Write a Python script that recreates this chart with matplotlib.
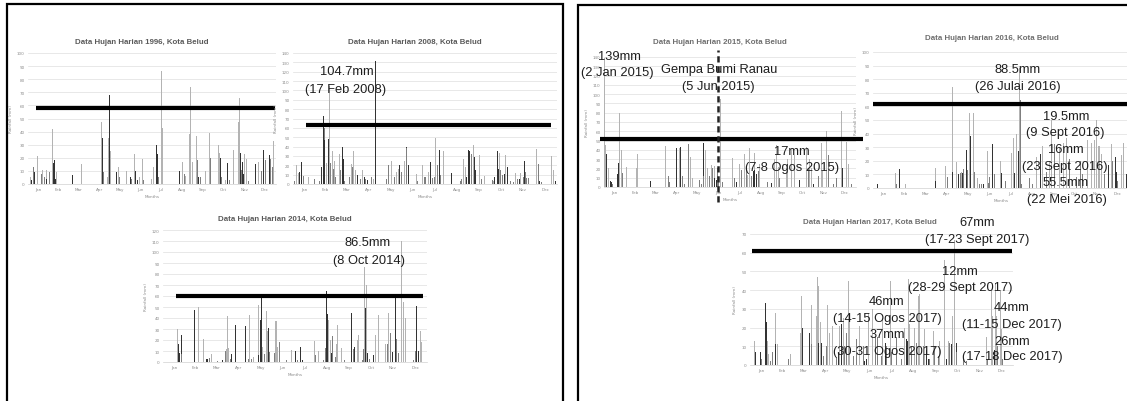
import matplotlib
matplotlib.use("Agg")
import matplotlib.pyplot as plt
from matplotlib.patches import Rectangle

W, H = 1127, 402

months = ['Jan', 'Feb', 'Mar', 'Apr', 'May', 'Jun', 'Jul', 'Aug', 'Sep', 'Oct', 'Nov', 'Dec']
month_start = [0, 31, 59, 90, 120, 151, 181, 212, 243, 273, 304, 334, 365]

# daily rainfall bars: (day of year, mm, station 0/1/2)
bars_1996 = [(3,5,0),(5,3,2),(8,13,1),(9,9,2),(14,21,0),(20,8,1),(22,11,0),(24,5,1),(27,11,0),(28,4,2),
             (31,21,0),(32,9,1),(36,42,0),(38,16,2),(39,18,2),(41,4,2),(42,9,0),(62,5,0),(66,7,2),(79,15,0),
             (109,47,0),(110,35,2),(111,9,1),(117,5,0),(119,35,0),(120,68,2),(122,25,0),(124,11,0),(131,9,2),
             (133,13,0),(135,5,1),(146,10,0),(151,5,2),(153,4,1),(157,23,0),(158,10,2),(162,3,2),(164,5,0),
             (169,19,0),(171,3,1),(182,4,0),(185,13,0),(189,30,2),(191,23,2),(193,5,1),(197,86,0),(199,43,0),
             (224,10,2),(228,17,0),(231,8,1),(233,6,0),(238,38,0),(240,74,0),(243,17,0),(245,8,2),(249,37,0),
             (250,18,1),(252,5,2),(254,5,1),(262,10,0),(268,39,0),(270,20,1),(276,5,0),(281,30,0),(282,24,0),
             (284,20,2),(286,5,1),(291,3,0),(295,16,2),(297,3,1),(303,26,0),(310,47,0),(312,66,0),(313,24,2),
             (315,11,1),(317,17,2),(318,8,2),(320,23,0),(323,19,0),(325,2,1),(335,21,0),(336,15,2),(340,17,0),
             (345,10,1),(347,26,2),(350,18,1),(356,22,2),(358,19,1),(361,13,1),(363,33,0)]

bars_2008 = [(2,3,1),(5,20,0),(7,12,0),(9,13,2),(12,24,2),(14,9,1),(22,8,0),(30,5,1),(37,3,1),(39,18,2),
             (42,73,2),(43,60,1),(44,47,2),(46,22,0),(49,48,2),(50,51,2),(51,104.7,0),(52,22,1),(55,35,0),
             (56,16,1),(58,25,0),(59,8,1),(64,32,0),(66,15,1),(69,40,2),(70,27,2),(72,3,1),(79,8,1),(81,21,0),
             (82,18,1),(84,35,0),(86,15,0),(90,10,2),(93,5,1),(97,15,0),(99,8,2),(101,5,1),(103,4,2),(109,7,1),
             (111,5,0),(114,131,2),(129,5,1),(132,15,2),(133,20,1),(136,25,0),(141,8,1),(144,13,0),(146,16,0),
             (148,20,2),(151,13,1),(154,25,0),(157,40,2),(158,39,1),(160,20,2),(171,11,0),(172,3,1),(180,20,0),
             (183,8,1),(188,13,0),(190,24,2),(191,10,2),(194,6,1),(196,8,1),(198,49,0),(201,20,1),(203,36,2),
             (205,10,1),(209,35,0),(220,12,2),(232,3,1),(234,5,1),(236,27,0),(239,18,0),(241,8,2),(243,36,2),
             (245,35,2),(247,32,1),(248,15,1),(250,42,0),(252,29,2),(253,15,2),(259,31,0),(262,5,1),(266,9,0),
             (276,4,1),(278,3,0),(280,8,2),(284,35,2),(285,16,2),(286,33,0),(288,15,1),(291,10,1),(293,11,2),
             (295,31,0),(297,18,2),(301,3,1),(306,2,1),(308,12,0),(311,5,1),(314,5,2),(316,12,0),(319,8,1),
             (321,25,2),(323,13,1),(324,6,1),(327,6,1),(338,37,0),(340,21,1),(342,3,2),(345,2,1),(359,30,0),
             (361,15,0),(364,3,2)]

bars_2014 = [(20,30,0),(21,16,2),(23,8,2),(25,25,2),(26,7,1),(43,47,2),(44,8,2),(49,50,0),(56,21,0),(61,3,2),
             (64,4,1),(67,7,0),(75,1,1),(82,2,2),(86,10,1),(88,12,0),(89,42,0),(91,13,0),(94,3,1),(95,7,2),
             (100,34,2),(114,33,2),(118,3,1),(120,43,0),(123,3,1),(126,5,0),(132,52,0),(133,6,2),(135,38,2),
             (136,58,2),(138,14,0),(141,7,1),(144,46,0),(145,28,0),(146,31,2),(148,9,1),(155,8,1),(156,37,0),
             (158,37,0),(159,14,0),(162,18,1),(171,2,1),(178,11,0),(184,10,2),(187,2,1),(190,14,2),(194,2,2),
             (210,19,0),(212,6,1),(215,10,0),(222,2,1),(225,13,1),(226,65,0),(227,65,2),(228,44,2),(230,38,0),
             (232,20,0),(234,8,2),(235,24,1),(239,5,1),(241,16,0),(242,34,0),(248,13,0),(251,2,1),(262,45,2),
             (264,12,1),(266,14,2),(269,20,0),(271,25,0),(276,2,1),(278,12,1),(279,86.5,0),(281,49,2),(282,70,0),
             (284,8,2),(286,3,1),(292,6,2),(294,17,2),(295,25,0),(299,43,0),(308,16,0),(311,16,1),(312,31,0),
             (313,45,0),(315,26,1),(318,9,2),(322,60,2),(324,21,1),(327,8,1),(330,18,0),(331,110,0),(333,55,0),
             (336,40,0),(347,2,1),(350,10,1),(352,51,2),(354,10,2),(357,28,0),(359,18,0)]

bars_2015 = [(1,139,0),(2,45,0),(4,36,2),(7,20,0),(9,6,2),(11,5,2),(13,3,1),(20,14,2),(21,26,2),(22,80,0),
             (25,40,0),(27,15,1),(33,22,0),(47,20,0),(48,36,0),(68,6,2),(90,44,0),(93,12,1),(95,5,1),(105,42,2),
             (110,42,0),(111,43,2),(114,12,1),(117,3,1),(122,68,2),(123,46,1),(125,32,0),(129,10,0),(139,8,1),
             (141,3,1),(144,47,2),(145,12,1),(148,40,0),(151,21,0),(153,12,1),(156,24,0),(158,20,1),(160,23,0),
             (161,10,2),(163,8,2),(165,20,1),(166,5,1),(169,95,0),(172,5,1),(187,31,0),(190,10,1),(192,5,2),
             (197,25,0),(200,18,1),(204,36,0),(207,22,1),(209,13,0),(212,42,0),(214,12,1),(217,17,2),(218,37,0),
             (219,18,2),(221,14,2),(224,17,1),(226,25,0),(238,5,1),(243,4,2),(247,30,0),(250,45,0),(253,22,0),
             (255,10,1),(265,15,0),(267,30,0),(272,42,0),(277,35,0),(284,8,2),(289,25,0),(294,43,0),(297,20,1),
             (299,30,0),(301,20,0),(304,3,2),(311,12,1),(316,47,0),(318,17,0),(323,60,0),(326,35,1),(333,3,1),
             (338,10,1),(345,82,0),(347,20,2),(350,45,0),(352,49,0),(355,25,0),(360,3,1)]

bars_2016 = [(6,3,2),(32,11,0),(34,3,1),(38,14,2),(46,3,0),(89,15,0),(90,5,2),(103,16,0),(106,8,1),(113,74,0),
             (114,12,2),(120,19,0),(122,10,2),(125,11,1),(127,12,0),(128,11,2),(130,14,1),(133,28,2),(135,13,1),
             (138,55,0),(140,38,2),(144,55.5,0),(145,12,1),(150,7,0),(152,3,1),(155,3,1),(158,3,2),(163,27,0),
             (165,4,1),(167,8,1),(171,32,2),(173,32,0),(174,10,1),(182,20,0),(184,11,2),(189,5,1),(198,26,0),
             (201,37,0),(203,11,2),(205,40,0),(208,27,2),(209,88.5,0),(211,65,1),(213,3,1),(224,7,1),(228,3,1),
             (234,23,0),(239,25,2),(243,31,0),(248,12,1),(252,19.5,0),(255,50,0),(259,32,1),(266,16,0),(267,30,0),
             (272,33,0),(277,37,0),(281,21,1),(291,8,1),(296,20,1),(300,10,1),(307,35,0),(312,33,0),(317,35,0),
             (319,50,0),(322,31,0),(324,31,0),(327,25,0),(331,10,1),(336,17,2),(341,32,0),(343,20,1),(346,23,2),
             (348,12,2),(350,5,1),(355,24,0),(358,33,0),(362,10,2)]

bars_2017 = [(6,13,0),(8,7,2),(14,7,2),(16,3,1),(21,15,0),(22,33,2),(23,23,2),(25,13,0),(26,6,0),(28,2,1),
             (32,7,1),(35,28,0),(36,11,2),(38,11,0),(53,3,1),(56,6,0),(70,17,0),(72,37,0),(73,20,2),(83,17,2),
             (85,32,0),(86,11,1),(92,26,0),(94,47,0),(95,42,0),(96,12,2),(98,23,0),(100,12,2),(102,5,1),(106,10,1),
             (108,32,0),(110,17,0),(115,21,0),(120,4,1),(123,7,2),(125,21,0),(127,22,2),(130,25,0),(132,10,1),
             (134,17,1),(137,45,0),(139,25,0),(144,5,1),(148,14,1),(153,21,0),(158,10,1),(160,2,2),(162,3,2),
             (165,28,0),(171,30,0),(174,15,1),(178,15,1),(183,5,1),(185,25,0),(188,12,2),(190,10,1),(195,45,0),
             (197,7,1),(204,15,1),(211,3,1),(215,20,0),(218,14,2),(219,13,2),(221,46,0),(222,22,0),(225,10,1),
             (229,20,0),(232,12,1),(234,37,0),(236,38,0),(241,10,1),(243,19,0),(246,8,2),(248,3,2),(250,3,1),
             (255,18,0),(257,10,1),(262,5,1),(264,13,0),(271,56,0),(273,3,2),(276,13,0),(278,12,1),(280,11,2),
             (282,26,0),(284,31,0),(285,67,0),(287,12,2),(288,7,1),(297,3,1),(301,2,1),(329,15,0),(331,3,1),
             (336,40,0),(338,26,0),(340,8,2),(341,44,0),(343,26,0),(345,10,1),(348,40,0),(350,19,0),(352,3,1)]

years = [1996, 2008, 2014, 2015, 2016, 2017]
bars = [bars_1996, bars_2008, bars_2014, bars_2015, bars_2016, bars_2017]
y_max = [100, 140, 120, 140, 100, 70]
threshold = [58, 63, 60, 52, 61.5, 61]
gempa_day = 165

# layout in pixels: axes box (left, top, right, bottom), title centre, threshold span (axes fraction)
boxes = [(28, 54, 276, 185), (293, 54, 557, 185), (163, 231, 427, 363),
         (604, 58, 856, 188), (873, 53, 1129, 189), (750, 235, 1013, 366)]
title_xy = [(142, 43), (415, 43), (285, 220), (720, 43), (992, 39), (870, 223)]
thr_span = [(0.032, 0.996), (0.049, 0.977), (0.049, 0.985), (-0.016, 1.028), (0.0, 1.0), (0.008, 0.996)]

stn_colors = ['#b3b3b3', '#7f7f7f', '#333333']
FONT = 'Liberation Sans'

fig = plt.figure(figsize=(W / 100, H / 100), dpi=100)
fig.patch.set_facecolor('white')


def ptext(x, y, s, **kw):
    kw.setdefault('ha', 'center')
    kw.setdefault('va', 'center')
    kw.setdefault('family', FONT)
    return fig.text(x / W, 1 - y / H, s, **kw)


# frames
fig.patches.append(Rectangle((7 / W, -0.02), (563 - 7) / W, 1.02 - 5 / H, transform=fig.transFigure,
                             fill=False, ec='black', lw=1.6, zorder=0))
fig.patches.append(Rectangle((578 / W, -0.02), 0.6, 1.02 - 6 / H, transform=fig.transFigure,
                             fill=False, ec='black', lw=1.6, zorder=0))

mid = [(month_start[i] + month_start[i + 1]) / 2 for i in range(12)]
axes = {}
for yr, data, ym, thr, (l, t, r, b), (tx, ty), (x0, x1) in zip(years, bars, y_max, threshold, boxes,
                                                               title_xy, thr_span):
    ax = fig.add_axes([l / W, 1 - b / H, (r - l) / W, (b - t) / H])
    ax.set_facecolor('none')
    d = [row[0] for row in data]
    v = [row[1] for row in data]
    c = [stn_colors[row[2]] for row in data]
    ax.bar(d, v, width=1.4, color=c, linewidth=0, zorder=2)
    ax.set_xlim(0, 366)
    ax.set_ylim(0, ym)
    ax.set_yticks(range(0, ym + 1, 10))
    ax.set_xticks(mid)
    ax.set_xticklabels(months)
    ax.tick_params(length=0, labelsize=3, labelcolor='#8c8c8c', pad=2.5)
    for s in ['top', 'right', 'left']:
        ax.spines[s].set_visible(False)
    ax.spines['bottom'].set_color('#d0d0d0')
    ax.spines['bottom'].set_linewidth(0.5)
    ax.grid(axis='y', color='#dedede', lw=0.5, zorder=0)
    ax.set_axisbelow(True)
    ax.set_xlabel('Months', fontsize=3, color='#8c8c8c', labelpad=2)
    ax.set_ylabel('Rainfall (mm)', fontsize=3, color='#8c8c8c', labelpad=3)
    ax.axhline(thr, xmin=x0, xmax=x1, color='black', lw=3, zorder=4, clip_on=False, solid_capstyle='butt')
    tcol = '#5a5a5a' if yr in (1996, 2008, 2014) else '#6e6e6e'
    ptext(tx, ty, 'Data Hujan Harian %d, Kota Belud' % yr, fontsize=5.7,
          fontweight='bold', color=tcol)
    axes[yr] = ax

# earthquake marker
axes[2015].plot([gempa_day, gempa_day], [-16, 148], color='#222222', lw=1.8, ls=(0, (2.5, 1.5)),
                clip_on=False, zorder=5)

ann = dict(fontsize=9.3, color='#1e1e1e', zorder=10)
notes = [
    (347, 72, '104.7mm'), (346, 90, '(17 Feb 2008)'),
    (368, 243, '86.5mm'), (369, 261, '(8 Oct 2014)'),
    (619, 57, '139mm'), (617, 73, '(2 Jan 2015)'),
    (719, 70, 'Gempa Bumi Ranau'), (718, 87, '(5 Jun 2015)'),
    (792, 152, '17mm'), (792, 168, '(7-8 Ogos 2015)'),
    (1018, 70, '88.5mm'), (1018, 87, '(26 Julai 2016)'),
    (1066, 117, '19.5mm'), (1065, 133, '(9 Sept 2016)'),
    (1066, 150, '16mm'), (1065, 167, '(23 Sept 2016)'),
    (1066, 183, '55.5mm'), (1067, 200, '(22 Mei 2016)'),
    (977, 223, '67mm'), (977, 240, '(17-23 Sept 2017)'),
    (960, 272, '12mm'), (960, 288, '(28-29 Sept 2017)'),
    (887, 302, '46mm'), (887, 319, '(14-15 Ogos 2017)'),
    (887, 335, '37mm'), (887, 352, '(30-31 Ogos 2017)'),
    (1012, 308, '44mm'), (1012, 325, '(11-15 Dec 2017)'),
    (1012, 342, '26mm'), (1012, 357, '(17-18 Dec 2017)'),
]
for x, y, s in notes:
    ptext(x, y, s, **ann)

fig.savefig('out.png', dpi=100)
